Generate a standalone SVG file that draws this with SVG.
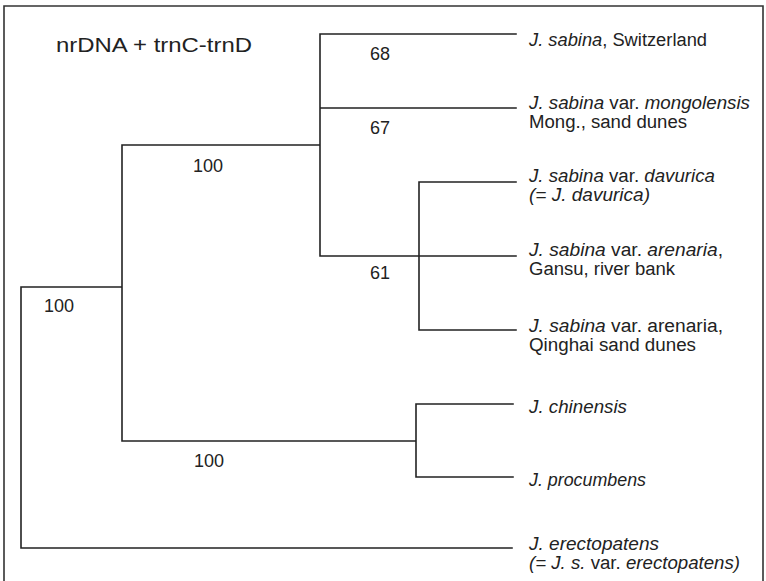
<svg xmlns="http://www.w3.org/2000/svg" width="766" height="581" viewBox="0 0 766 581">
<style>
.t{font-family:"Liberation Sans",Arial,sans-serif;font-size:18px;fill:#222}
.ttl{font-size:20px}
.i{font-style:italic}
.br{fill:none;stroke:#222;stroke-width:1.6;stroke-linecap:square}
.fr{fill:none;stroke:#333;stroke-width:1.6}
</style>
<rect width="766" height="581" fill="#fff"/>
<path class="fr" d="M4,582 V6 H763 V582"/>
<text class="t ttl" x="56" y="52" textLength="196" lengthAdjust="spacingAndGlyphs">nrDNA + trnC-trnD</text>
<g id="connectors">
<path class="br" d="M21,287 V548 M21,287 H122 M122,145 V441 M122,145 H320 M320,34 V256 M320,34 H516 M320,108 H516 M320,256 H516 M419,182 V330 M419,182 H516 M419,330 H516 M122,441 H416 M416,404 V477 M416,404 H513 M416,477 H513 M21,548 H512"/>
</g>
<g id="supports">
<text class="t" x="370" y="60">68</text>
<text class="t" x="370" y="134">67</text>
<text class="t" x="370" y="279">61</text>
<text class="t" x="193" y="172">100</text>
<text class="t" x="44" y="312">100</text>
<text class="t" x="194" y="467">100</text>
</g>
<g id="n-switzerland"><text class="t" x="529" y="46" textLength="178" lengthAdjust="spacingAndGlyphs"><tspan class="i">J. sabina</tspan>, Switzerland</text></g>
<g id="n-mongolensis">
<text class="t" x="529" y="109" textLength="221" lengthAdjust="spacingAndGlyphs"><tspan class="i">J. sabina</tspan> var. <tspan class="i">mongolensis</tspan></text>
<text class="t" x="529" y="128" textLength="158" lengthAdjust="spacingAndGlyphs">Mong., sand dunes</text>
</g>
<g id="n-davurica">
<text class="t" x="529" y="182" textLength="186" lengthAdjust="spacingAndGlyphs"><tspan class="i">J. sabina</tspan> var. <tspan class="i">davurica</tspan></text>
<text class="t i" x="529" y="201" textLength="121" lengthAdjust="spacingAndGlyphs">(= J. davurica)</text>
</g>
<g id="n-gansu">
<text class="t" x="529" y="256" textLength="194" lengthAdjust="spacingAndGlyphs"><tspan class="i">J. sabina</tspan> var. <tspan class="i">arenaria</tspan>,</text>
<text class="t" x="529" y="275" textLength="146" lengthAdjust="spacingAndGlyphs">Gansu, river bank</text>
</g>
<g id="n-qinghai">
<text class="t" x="529" y="332" textLength="194" lengthAdjust="spacingAndGlyphs"><tspan class="i">J. sabina</tspan> var. arenaria,</text>
<text class="t" x="529" y="351" textLength="167" lengthAdjust="spacingAndGlyphs">Qinghai sand dunes</text>
</g>
<g id="n-chinensis"><text class="t i" x="529" y="413" textLength="98" lengthAdjust="spacingAndGlyphs">J. chinensis</text></g>
<g id="n-procumbens"><text class="t i" x="529" y="486" textLength="117" lengthAdjust="spacingAndGlyphs">J. procumbens</text></g>
<g id="n-erectopatens">
<text class="t i" x="529" y="550" textLength="130" lengthAdjust="spacingAndGlyphs">J. erectopatens</text>
<text class="t" x="529" y="569" textLength="211" lengthAdjust="spacingAndGlyphs"><tspan class="i">(= J. s.</tspan> var. <tspan class="i">erectopatens)</tspan></text>
</g>
</svg>
